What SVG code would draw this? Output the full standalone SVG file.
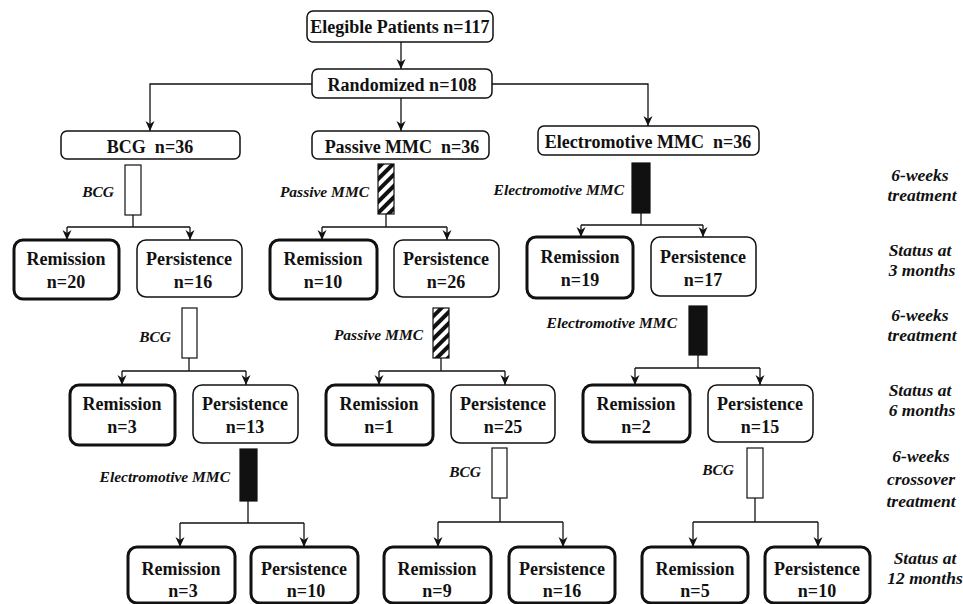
<svg xmlns="http://www.w3.org/2000/svg" width="963" height="604" viewBox="0 0 963 604">
<style>
.bx{fill:#fff;stroke:#111;stroke-width:1.5}
.tk{fill:#fff;stroke:#111;stroke-width:3}
text{font-family:"Liberation Serif","DejaVu Serif","Times New Roman",serif;font-weight:bold;fill:#111}
.t{font-size:18px;text-anchor:middle}
.lb{font-style:italic;font-size:15.5px;text-anchor:end}
.rl{font-style:italic;font-size:17.5px;text-anchor:middle}
.ln{fill:none;stroke:#111;stroke-width:1.3}
.bw{fill:#fff;stroke:#111;stroke-width:1.2}
.bk{fill:#111;stroke:#111;stroke-width:1.2}
.bh{fill:url(#hatch);stroke:#111;stroke-width:1.2}
</style>
<defs>
<marker id="ah" markerUnits="userSpaceOnUse" markerWidth="10" markerHeight="10" refX="10" refY="5" orient="auto">
<path d="M0,0.5 L10,5 L0,9.5 L3,5 z" fill="#111"/>
</marker>
<pattern id="hatch" patternUnits="userSpaceOnUse" width="8" height="8" patternTransform="rotate(45)">
<rect width="8" height="8" fill="#fff"/>
<rect width="4" height="8" fill="#111"/>
</pattern>
</defs>

<g id="connectors">
<path class="ln" d="M401,42 V69" marker-end="url(#ah)"/>
<path class="ln" d="M312,84 H150 V131" marker-end="url(#ah)"/>
<path class="ln" d="M401,98 V131" marker-end="url(#ah)"/>
<path class="ln" d="M492,84 H648 V126" marker-end="url(#ah)"/>
<path class="ln" d="M133,215 V227"/>
<path class="ln" d="M67,227 H190"/>
<path class="ln" d="M67,227 V240" marker-end="url(#ah)"/>
<path class="ln" d="M190,227 V240" marker-end="url(#ah)"/>
<path class="ln" d="M386,214 V227"/>
<path class="ln" d="M322,227 H447"/>
<path class="ln" d="M322,227 V240" marker-end="url(#ah)"/>
<path class="ln" d="M447,227 V240" marker-end="url(#ah)"/>
<path class="ln" d="M641,213 V225"/>
<path class="ln" d="M581,225 H703"/>
<path class="ln" d="M581,225 V237" marker-end="url(#ah)"/>
<path class="ln" d="M703,225 V237" marker-end="url(#ah)"/>
<path class="ln" d="M189,358 V371"/>
<path class="ln" d="M122,371 H246"/>
<path class="ln" d="M122,371 V385" marker-end="url(#ah)"/>
<path class="ln" d="M246,371 V385" marker-end="url(#ah)"/>
<path class="ln" d="M441,358 V371"/>
<path class="ln" d="M379,371 H505"/>
<path class="ln" d="M379,371 V385" marker-end="url(#ah)"/>
<path class="ln" d="M505,371 V385" marker-end="url(#ah)"/>
<path class="ln" d="M698,355 V368"/>
<path class="ln" d="M635,368 H760"/>
<path class="ln" d="M635,368 V385" marker-end="url(#ah)"/>
<path class="ln" d="M760,368 V385" marker-end="url(#ah)"/>
<path class="ln" d="M248,501 V523"/>
<path class="ln" d="M180,523 H304"/>
<path class="ln" d="M180,523 V547" marker-end="url(#ah)"/>
<path class="ln" d="M304,523 V547" marker-end="url(#ah)"/>
<path class="ln" d="M500,498 V522"/>
<path class="ln" d="M438,522 H563"/>
<path class="ln" d="M438,522 V547" marker-end="url(#ah)"/>
<path class="ln" d="M563,522 V547" marker-end="url(#ah)"/>
<path class="ln" d="M755,498 V522"/>
<path class="ln" d="M693,522 H818"/>
<path class="ln" d="M693,522 V547" marker-end="url(#ah)"/>
<path class="ln" d="M818,522 V547" marker-end="url(#ah)"/>
</g>

<g id="elegible"><rect class="bx" x="307" y="11" width="186" height="31" rx="6"/><text class="t" x="400" y="33">Elegible Patients n=117</text></g>
<g id="randomized"><rect class="bx" x="312" y="69" width="180" height="29" rx="6"/><text class="t" x="402" y="91">Randomized n=108</text></g>
<g id="bcg"><rect class="bx" x="61" y="131" width="179" height="28" rx="6"/><text class="t" x="150" y="153" xml:space="preserve">BCG  n=36</text></g>
<g id="passive"><rect class="bx" x="312" y="131" width="177" height="28" rx="6"/><text class="t" x="402" y="153" xml:space="preserve">Passive MMC  n=36</text></g>
<g id="electro"><rect class="bx" x="538" y="126" width="221" height="29" rx="6"/><text class="t" x="648" y="148" xml:space="preserve">Electromotive MMC  n=36</text></g>

<g id="tx1a"><rect class="bw" x="125" y="165" width="16" height="50"/><text class="lb" x="114" y="197">BCG</text></g>
<g id="tx1b"><rect class="bh" x="378" y="164" width="16" height="50"/><text class="lb" x="369" y="197">Passive MMC</text></g>
<g id="tx1c"><rect class="bk" x="632" y="163" width="18" height="50"/><text class="lb" x="624" y="195">Electromotive MMC</text></g>
<g id="tx2a"><rect class="bw" x="182" y="308" width="15" height="50"/><text class="lb" x="171" y="342">BCG</text></g>
<g id="tx2b"><rect class="bh" x="433" y="308" width="16" height="50"/><text class="lb" x="423" y="340">Passive MMC</text></g>
<g id="tx2c"><rect class="bk" x="689" y="306" width="18" height="49"/><text class="lb" x="677" y="328">Electromotive MMC</text></g>
<g id="tx3a"><rect class="bk" x="240" y="449" width="17" height="52"/><text class="lb" x="230" y="482">Electromotive MMC</text></g>
<g id="tx3b"><rect class="bw" x="492" y="448" width="15" height="50"/><text class="lb" x="481" y="477">BCG</text></g>
<g id="tx3c"><rect class="bw" x="747" y="448" width="16" height="50"/><text class="lb" x="734" y="475">BCG</text></g>

<g id="r1a"><rect class="tk" x="14" y="240" width="105" height="59" rx="9"/><text class="t" x="66" y="265">Remission</text><text class="t" x="66" y="288">n=20</text></g>
<g id="p1a"><rect class="bx" x="137" y="240" width="105" height="57" rx="9"/><text class="t" x="189" y="265">Persistence</text><text class="t" x="193" y="288">n=16</text></g>
<g id="r1b"><rect class="tk" x="270" y="240" width="107" height="59" rx="9"/><text class="t" x="323" y="265">Remission</text><text class="t" x="323" y="288">n=10</text></g>
<g id="p1b"><rect class="bx" x="394" y="240" width="105" height="57" rx="9"/><text class="t" x="446" y="265">Persistence</text><text class="t" x="446" y="288">n=26</text></g>
<g id="r1c"><rect class="tk" x="527" y="237" width="106" height="61" rx="9"/><text class="t" x="580" y="263">Remission</text><text class="t" x="580" y="286">n=19</text></g>
<g id="p1c"><rect class="bx" x="651" y="237" width="105" height="59" rx="9"/><text class="t" x="703" y="263">Persistence</text><text class="t" x="703" y="286">n=17</text></g>

<g id="r2a"><rect class="tk" x="70" y="385" width="105" height="60" rx="9"/><text class="t" x="122" y="410">Remission</text><text class="t" x="122" y="433">n=3</text></g>
<g id="p2a"><rect class="bx" x="193" y="385" width="105" height="58" rx="9"/><text class="t" x="245" y="410">Persistence</text><text class="t" x="245" y="433">n=13</text></g>
<g id="r2b"><rect class="tk" x="326" y="385" width="107" height="60" rx="9"/><text class="t" x="379" y="410">Remission</text><text class="t" x="379" y="433">n=1</text></g>
<g id="p2b"><rect class="bx" x="451" y="385" width="104" height="58" rx="9"/><text class="t" x="503" y="410">Persistence</text><text class="t" x="503" y="433">n=25</text></g>
<g id="r2c"><rect class="tk" x="583" y="385" width="107" height="57" rx="9"/><text class="t" x="636" y="410">Remission</text><text class="t" x="636" y="433">n=2</text></g>
<g id="p2c"><rect class="bx" x="708" y="385" width="105" height="57" rx="9"/><text class="t" x="760" y="410">Persistence</text><text class="t" x="760" y="433">n=15</text></g>

<g id="r3a"><rect class="tk" x="128" y="547" width="107" height="56" rx="9"/><text class="t" x="181" y="575">Remission</text><text class="t" x="183" y="597">n=3</text></g>
<g id="p3a"><rect class="tk" x="251" y="547" width="107" height="56" rx="9"/><text class="t" x="304" y="575">Persistence</text><text class="t" x="306" y="597">n=10</text></g>
<g id="r3b"><rect class="tk" x="384" y="547" width="107" height="56" rx="9"/><text class="t" x="437" y="575">Remission</text><text class="t" x="437" y="597">n=9</text></g>
<g id="p3b"><rect class="tk" x="509" y="547" width="106" height="56" rx="9"/><text class="t" x="562" y="575">Persistence</text><text class="t" x="562" y="597">n=16</text></g>
<g id="r3c"><rect class="tk" x="642" y="547" width="106" height="56" rx="9"/><text class="t" x="695" y="575">Remission</text><text class="t" x="695" y="597">n=5</text></g>
<g id="p3c"><rect class="tk" x="765" y="547" width="105" height="56" rx="9"/><text class="t" x="817" y="575">Persistence</text><text class="t" x="817" y="597">n=10</text></g>

<g id="side">
<text class="rl" x="920" y="181">6-weeks</text>
<text class="rl" x="922" y="201">treatment</text>
<text class="rl" x="920" y="256">Status at</text>
<text class="rl" x="922" y="276">3 months</text>
<text class="rl" x="920" y="321">6-weeks</text>
<text class="rl" x="922" y="341">treatment</text>
<text class="rl" x="920" y="396">Status at</text>
<text class="rl" x="922" y="416">6 months</text>
<text class="rl" x="921" y="462">6-weeks</text>
<text class="rl" x="921" y="485">crossover</text>
<text class="rl" x="921" y="507">treatment</text>
<text class="rl" x="925" y="564">Status at</text>
<text class="rl" x="925" y="584">12 months</text>
</g>
</svg>
